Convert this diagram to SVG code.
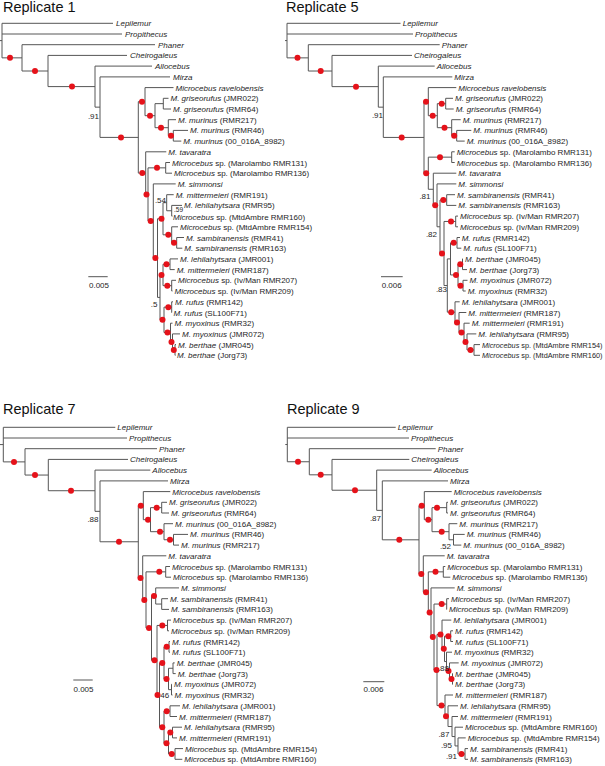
<svg xmlns="http://www.w3.org/2000/svg" width="605" height="766" viewBox="0 0 605 766">
<style>
.b{fill:none;stroke:#565656;stroke-width:1}
.d{fill:#e5121a}
.t{font-family:"Liberation Sans",Arial,sans-serif;font-size:8px;fill:#1e1e1e}
.i{font-style:italic}
.h{font-family:"Liberation Sans",Arial,sans-serif;font-size:14.5px;fill:#111}
.s{font-family:"Liberation Sans",Arial,sans-serif;font-size:8px;fill:#1e1e1e}
.e{text-anchor:end}
.n{font-size:7.3px}
</style>
<rect width="605" height="766" fill="#fff"/>

<!-- ================= REPLICATE 1 ================= -->
<g id="replicate1">
<text class="h" x="3" y="11.5">Replicate 1</text>
<g id="r1-connectors">
<path class="b" d="M2 23.3V57.85M22 44.7V71M48 55.4V86.6M95 66.1V107.15M100 76.9V137.4M138.3 101.65V173.1M145 87.6V115.7M155 103.65V127.7M163.3 98.3V109M168.3 119.7V135.75M173.3 130.4V141.1M145.7 151.8V194.4M148 167.85V221M165.7 162.5V173.2M153.3 183.9V258.1M157.5 218.75V297.4M163 202.7V234.8M166.7 194.7V210.75M171.7 205.4V216.1M171.7 226.8V242.85M176.7 237.5V248.2M160 274.95V319.85M163 264.25V285.65M170 258.9V269.6M171.7 280.3V291M164 307.15V332.55M171.7 301.8V312.5M170.5 323.2V341.9M172.5 333.9V349.95M175 344.6V355.3
M0 40.6H2M2 23.3H113M2 34H122M2 57.85H22M22 44.7H155M22 71H48M48 55.4H127M48 86.6H95M95 66.1H152M95 107.15H100M100 76.9H170M100 137.4H138.3M138.3 101.65H145M145 87.6H173.5M145 115.7H155M155 103.65H163.3M163.3 98.3H168.5M163.3 109H171M155 127.7H168.3M168.3 119.7H176M168.3 135.75H173.3M173.3 130.4H188M173.3 141.1H181.3M138.3 173.1H145.7M145.7 151.8H166.3M145.7 194.4H148M148 167.85H165.7M165.7 162.5H170M165.7 173.2H172M148 221H153.3M153.3 183.9H175.7M153.3 258.1H157.5M157.5 218.75H163M163 202.7H166.7M166.7 194.7H173.7M166.7 210.75H171.7M171.7 205.4H182M171.7 216.1H172.5M163 234.8H171.7M171.7 226.8H178M171.7 242.85H176.7M176.7 237.5H184M176.7 248.2H182.3M157.5 297.4H160M160 274.95H163M163 264.25H170M170 258.9H178M170 269.6H174.7M163 285.65H171.7M171.7 280.3H176M171.7 291H172.5M160 319.85H164M164 307.15H171.7M171.7 301.8H173M171.7 312.5H172M164 332.55H170.5M170.5 323.2H172.5M170.5 341.9H172.5M172.5 333.9H180M172.5 349.95H175M175 344.6H176M175 355.3H175.5"/>
<path class="b" d="M88.3 276.7H107.7"/>
</g>
<g id="r1-support">
<circle class="d" r="3" cx="10" cy="57.85"/><circle class="d" r="3" cx="35" cy="71"/><circle class="d" r="3" cx="72" cy="86.6"/><circle class="d" r="3" cx="121" cy="137.4"/><circle class="d" r="3" cx="142" cy="101.65"/><circle class="d" r="3" cx="150" cy="115.7"/><circle class="d" r="3" cx="161" cy="127.7"/><circle class="d" r="3" cx="171" cy="135.75"/><circle class="d" r="3" cx="142.3" cy="173.1"/><circle class="d" r="3" cx="157" cy="167.85"/><circle class="d" r="3" cx="146.5" cy="194.4"/><circle class="d" r="3" cx="150.7" cy="221"/><circle class="d" r="3" cx="155.4" cy="258.1"/><circle class="d" r="3" cx="161.5" cy="218.75"/><circle class="d" r="3" cx="168.3" cy="234.8"/><circle class="d" r="3" cx="174" cy="242.85"/><circle class="d" r="3" cx="166.5" cy="264.25"/><circle class="d" r="3" cx="161.5" cy="274.95"/><circle class="d" r="3" cx="167.3" cy="285.65"/><circle class="d" r="3" cx="168.3" cy="307.15"/><circle class="d" r="3" cx="162.5" cy="319.85"/><circle class="d" r="3" cx="167.5" cy="332.55"/><circle class="d" r="3" cx="171.5" cy="341.9"/><circle class="d" r="3" cx="173.8" cy="349.95"/>
<text class="s e" x="99" y="118.5">.91</text><text class="s e" x="166" y="202.5">.54</text><text class="s" x="174" y="212.3" style="font-size:6.5px">.59</text><text class="s e" x="157.5" y="306.5">.5</text>
<text class="s" x="89" y="288">0.005</text>
</g>
<g id="r1-n01"><text class="t i" x="116" y="26.3">Lepilemur</text></g>
<g id="r1-n02"><text class="t i" x="125" y="37">Propithecus</text></g>
<g id="r1-n03"><text class="t i" x="158" y="47.7">Phaner</text></g>
<g id="r1-n04"><text class="t i" x="130" y="58.4">Cheirogaleus</text></g>
<g id="r1-n05"><text class="t i" x="155" y="69.1">Allocebus</text></g>
<g id="r1-n06"><text class="t i" x="173" y="79.9">Mirza</text></g>
<g id="r1-n07"><text class="t i" x="175.5" y="90.6">Microcebus ravelobensis</text></g>
<g id="r1-n08"><text class="t" x="170.5" y="101.3"><tspan class="i">M. griseorufus</tspan> (JMR022)</text></g>
<g id="r1-n09"><text class="t" x="173" y="112"><tspan class="i">M. griseorufus</tspan> (RMR64)</text></g>
<g id="r1-n10"><text class="t" x="178" y="122.7"><tspan class="i">M. murinus</tspan> (RMR217)</text></g>
<g id="r1-n11"><text class="t" x="190" y="133.4"><tspan class="i">M. murinus</tspan> (RMR46)</text></g>
<g id="r1-n12"><text class="t" x="183.3" y="144.1"><tspan class="i">M. murinus</tspan> (00_016A_8982)</text></g>
<g id="r1-n13"><text class="t i" x="168.3" y="154.8">M. tavaratra</text></g>
<g id="r1-n14"><text class="t" x="172" y="165.5"><tspan class="i">Microcebus</tspan> sp. (Marolambo RMR131)</text></g>
<g id="r1-n15"><text class="t" x="174" y="176.2"><tspan class="i">Microcebus</tspan> sp. (Marolambo RMR136)</text></g>
<g id="r1-n16"><text class="t i" x="177.7" y="186.9">M. simmonsi</text></g>
<g id="r1-n17"><text class="t" x="175.7" y="197.7"><tspan class="i">M. mittermeieri</tspan> (RMR191)</text></g>
<g id="r1-n18"><text class="t" x="184" y="208.4"><tspan class="i">M. lehilahytsara</tspan> (RMR95)</text></g>
<g id="r1-n19"><text class="t" x="173" y="220"><tspan class="i">Microcebus</tspan> sp. (MtdAmbre RMR160)</text></g>
<g id="r1-n20"><text class="t" x="180" y="229.8"><tspan class="i">Microcebus</tspan> sp. (MtdAmbre RMR154)</text></g>
<g id="r1-n21"><text class="t" x="186" y="240.5"><tspan class="i">M. sambiranensis</tspan> (RMR41)</text></g>
<g id="r1-n22"><text class="t" x="184.3" y="251.2"><tspan class="i">M. sambiranensis</tspan> (RMR163)</text></g>
<g id="r1-n23"><text class="t" x="180" y="261.9"><tspan class="i">M. lehilahytsara</tspan> (JMR001)</text></g>
<g id="r1-n24"><text class="t" x="176.7" y="272.6"><tspan class="i">M. mittermeieri</tspan> (RMR187)</text></g>
<g id="r1-n25"><text class="t" x="178" y="283.3"><tspan class="i">Microcebus</tspan> sp. (Iv/Man RMR207)</text></g>
<g id="r1-n26"><text class="t" x="174.5" y="294"><tspan class="i">Microcebus</tspan> sp. (Iv/Man RMR209)</text></g>
<g id="r1-n27"><text class="t" x="175" y="304.8"><tspan class="i">M. rufus</tspan> (RMR142)</text></g>
<g id="r1-n28"><text class="t" x="173.5" y="315.5"><tspan class="i">M. rufus</tspan> (SL100F71)</text></g>
<g id="r1-n29"><text class="t" x="174.5" y="326.2"><tspan class="i">M. myoxinus</tspan> (RMR32)</text></g>
<g id="r1-n30"><text class="t" x="182" y="336.9"><tspan class="i">M. myoxinus</tspan> (JMR072)</text></g>
<g id="r1-n31"><text class="t" x="178" y="347.6"><tspan class="i">M. berthae</tspan> (JMR045)</text></g>
<g id="r1-n32"><text class="t" x="177" y="358.3"><tspan class="i">M. berthae</tspan> (Jorg73)</text></g>
</g>

<!-- ================= REPLICATE 5 ================= -->
<g id="replicate5">
<text class="h" x="286" y="11.5">Replicate 5</text>
<g id="r5-connectors">
<path class="b" d="M287 23.3V57.86M308.3 44.7V71.02M332 55.4V86.63M378.3 66.1V107.17M383.3 76.9V137.43M424 101.65V173.21M428.3 87.6V115.7M437.3 103.65V127.7M445.7 98.3V109M451.7 119.7V135.75M456.7 130.4V141.1M428.3 157.15V189.27M451.7 151.8V162.5M433.3 173.2V205.34M437 183.9V226.78M440 200.05V253.5M446.7 194.7V205.4M444 221.45V285.54M455.7 216.1V226.8M447.3 258.9V312.17M450.5 242.85V274.95M457 237.5V248.2M458 264.25V285.65M462.5 258.9V269.6M463 280.3V291M455 301.8V322.53M459 312.5V332.56M464 323.2V341.93M467 333.9V349.95M474 344.6V355.3
M285 40.58H287M287 23.3H400.5M287 34H413M287 57.86H308.3M308.3 44.7H439.7M308.3 71.02H332M332 55.4H412M332 86.63H378.3M378.3 66.1H434.7M378.3 107.17H383.3M383.3 76.9H452.3M383.3 137.43H424M424 101.65H428.3M428.3 87.6H456.3M428.3 115.7H437.3M437.3 103.65H445.7M445.7 98.3H453M445.7 109H453.7M437.3 127.7H451.7M451.7 119.7H460.7M451.7 135.75H456.7M456.7 130.4H471.3M456.7 141.1H464.7M424 173.21H428.3M428.3 157.15H451.7M451.7 151.8H454.7M451.7 162.5H454.7M428.3 189.27H433.3M433.3 173.2H456.3M433.3 205.34H437M437 183.9H456.3M437 226.78H440M440 200.05H446.7M446.7 194.7H455M446.7 205.4H456.3M440 253.5H444M444 221.45H455.7M455.7 216.1H458M455.7 226.8H458M444 285.54H447.3M447.3 258.9H450.5M450.5 242.85H457M457 237.5H460M457 248.2H461.3M450.5 274.95H458M458 264.25H462.5M462.5 258.9H463M462.5 269.6H467M458 285.65H463M463 280.3H467.5M463 291H465.7M447.3 312.17H455M455 301.8H459.7M455 322.53H459M459 312.5H466.3M459 332.56H464M464 323.2H469.7M464 341.93H467M467 333.9H476.3M467 349.95H474M474 344.6H480M474 355.3H480"/>
<path class="b" d="M381 276.7H402.7"/>
</g>
<g id="r5-support">
<circle class="d" r="3" cx="297.5" cy="57.86"/><circle class="d" r="3" cx="320.7" cy="71.02"/><circle class="d" r="3" cx="356" cy="86.63"/><circle class="d" r="3" cx="401.7" cy="137.43"/><circle class="d" r="3" cx="426" cy="101.65"/><circle class="d" r="3" cx="432.7" cy="115.7"/><circle class="d" r="3" cx="441.7" cy="103.65"/><circle class="d" r="3" cx="444.5" cy="127.7"/><circle class="d" r="3" cx="454.2" cy="135.75"/><circle class="d" r="3" cx="426.2" cy="173.21"/><circle class="d" r="3" cx="440" cy="157.15"/><circle class="d" r="3" cx="435.2" cy="205.34"/><circle class="d" r="3" cx="443.3" cy="200.05"/><circle class="d" r="3" cx="442" cy="253.5"/><circle class="d" r="3" cx="451" cy="221.45"/><circle class="d" r="3" cx="453.7" cy="242.85"/><circle class="d" r="3" cx="456" cy="274.95"/><circle class="d" r="3" cx="460.3" cy="264.25"/><circle class="d" r="3" cx="460.5" cy="285.65"/><circle class="d" r="3" cx="451.2" cy="312.17"/><circle class="d" r="3" cx="457" cy="322.53"/><circle class="d" r="3" cx="461.5" cy="332.56"/><circle class="d" r="3" cx="465.5" cy="341.93"/><circle class="d" r="3" cx="470.5" cy="349.95"/>
<text class="s e" x="383" y="118">.91</text><text class="s e" x="430.5" y="199">.81</text><text class="s e" x="437" y="236.5">.82</text><text class="s e" x="447" y="291.5">.83</text>
<text class="s" x="381.7" y="288">0.006</text>
</g>
<g id="r5-n01"><text class="t i" x="402.7" y="26.3">Lepilemur</text></g>
<g id="r5-n02"><text class="t i" x="415" y="37">Propithecus</text></g>
<g id="r5-n03"><text class="t i" x="441.7" y="47.7">Phaner</text></g>
<g id="r5-n04"><text class="t i" x="414" y="58.4">Cheirogaleus</text></g>
<g id="r5-n05"><text class="t i" x="436.7" y="69.1">Allocebus</text></g>
<g id="r5-n06"><text class="t i" x="454.3" y="79.9">Mirza</text></g>
<g id="r5-n07"><text class="t i" x="458.3" y="90.6">Microcebus ravelobensis</text></g>
<g id="r5-n08"><text class="t" x="455" y="101.3"><tspan class="i">M. griseorufus</tspan> (JMR022)</text></g>
<g id="r5-n09"><text class="t" x="455.7" y="112"><tspan class="i">M. griseorufus</tspan> (RMR64)</text></g>
<g id="r5-n10"><text class="t" x="462.7" y="122.7"><tspan class="i">M. murinus</tspan> (RMR217)</text></g>
<g id="r5-n11"><text class="t" x="473.3" y="133.4"><tspan class="i">M. murinus</tspan> (RMR46)</text></g>
<g id="r5-n12"><text class="t" x="466.7" y="144.1"><tspan class="i">M. murinus</tspan> (00_016A_8982)</text></g>
<g id="r5-n13"><text class="t" x="456.7" y="154.8"><tspan class="i">Microcebus</tspan> sp. (Marolambo RMR131)</text></g>
<g id="r5-n14"><text class="t" x="456.7" y="165.5"><tspan class="i">Microcebus</tspan> sp. (Marolambo RMR136)</text></g>
<g id="r5-n15"><text class="t i" x="458.3" y="176.2">M. tavaratra</text></g>
<g id="r5-n16"><text class="t i" x="458.3" y="186.9">M. simmonsi</text></g>
<g id="r5-n17"><text class="t" x="457" y="197.7"><tspan class="i">M. sambiranensis</tspan> (RMR41)</text></g>
<g id="r5-n18"><text class="t" x="458.3" y="208.4"><tspan class="i">M. sambiranensis</tspan> (RMR163)</text></g>
<g id="r5-n19"><text class="t" x="460" y="219.1"><tspan class="i">Microcebus</tspan> sp. (Iv/Man RMR207)</text></g>
<g id="r5-n20"><text class="t" x="460" y="229.8"><tspan class="i">Microcebus</tspan> sp. (Iv/Man RMR209)</text></g>
<g id="r5-n21"><text class="t" x="461.7" y="240.5"><tspan class="i">M. rufus</tspan> (RMR142)</text></g>
<g id="r5-n22"><text class="t" x="463.3" y="251.2"><tspan class="i">M. rufus</tspan> (SL100F71)</text></g>
<g id="r5-n23"><text class="t" x="465" y="261.9"><tspan class="i">M. berthae</tspan> (JMR045)</text></g>
<g id="r5-n24"><text class="t" x="469" y="272.6"><tspan class="i">M. berthae</tspan> (Jorg73)</text></g>
<g id="r5-n25"><text class="t" x="469.5" y="283.3"><tspan class="i">M. myoxinus</tspan> (JMR072)</text></g>
<g id="r5-n26"><text class="t" x="467.7" y="294"><tspan class="i">M. myoxinus</tspan> (RMR32)</text></g>
<g id="r5-n27"><text class="t" x="461.7" y="304.8"><tspan class="i">M. lehilahytsara</tspan> (JMR001)</text></g>
<g id="r5-n28"><text class="t" x="468.3" y="315.5"><tspan class="i">M. mittermeieri</tspan> (RMR187)</text></g>
<g id="r5-n29"><text class="t" x="471.7" y="326.2"><tspan class="i">M. mittermeieri</tspan> (RMR191)</text></g>
<g id="r5-n30"><text class="t" x="478.3" y="336.9"><tspan class="i">M. lehilahytsara</tspan> (RMR95)</text></g>
<g id="r5-n31"><text class="t n" x="482" y="347.6"><tspan class="i">Microcebus</tspan> sp. (MtdAmbre RMR154)</text></g>
<g id="r5-n32"><text class="t n" x="482" y="358.3"><tspan class="i">Microcebus</tspan> sp. (MtdAmbre RMR160)</text></g>
</g>

<!-- ================= REPLICATE 7 ================= -->
<g id="replicate7" transform="translate(0,404)">
<text class="h" x="3" y="10">Replicate 7</text>
<g id="r7-connectors">
<path class="b" d="M3.3 23.3V57.88M25 44.7V71.06M48.3 55.4V86.72M95 66.1V107.33M100 76.9V137.77M138.3 101.65V173.89M143.3 87.6V115.7M150.5 103.65V127.7M161.7 98.3V109M164 119.7V135.75M173.5 130.4V141.1M142.7 151.8V195.98M146 167.85V224.1M165.7 162.5V173.2M151.5 191.98V256.25M155.7 183.9V200.05M161.7 194.7V205.4M157 221.45V291.05M167.5 216.1V226.8M159.5 258.9V323.2M164 242.85V274.95M169 237.5V248.2M168.5 264.25V285.65M173 258.9V269.6M171.5 280.3V291M164 307.15V339.25M170 301.8V312.5M168.5 328.55V349.95M172.5 323.2V333.9M175 344.6V355.3
M0 40.59H3.3M3.3 23.3H115.3M3.3 34H127M3.3 57.88H25M25 44.7H157M25 71.06H48.3M48.3 55.4H128M48.3 86.72H95M95 66.1H150.3M95 107.33H100M100 76.9H168M100 137.77H138.3M138.3 101.65H143.3M143.3 87.6H170.3M143.3 115.7H150.5M150.5 103.65H161.7M161.7 98.3H167M161.7 109H169M150.5 127.7H164M164 119.7H173M164 135.75H173.5M173.5 130.4H188M173.5 141.1H179M138.3 173.89H142.7M142.7 151.8H166.3M142.7 195.98H146M146 167.85H165.7M165.7 162.5H170M165.7 173.2H171M146 224.1H151.5M151.5 191.98H155.7M155.7 183.9H179M155.7 200.05H161.7M161.7 194.7H168M161.7 205.4H169M151.5 256.25H157M157 221.45H167.5M167.5 216.1H171M167.5 226.8H169M157 291.05H159.5M159.5 258.9H164M164 242.85H169M169 237.5H170M169 248.2H170M164 274.95H168.5M168.5 264.25H173M173 258.9H174.7M173 269.6H175.7M168.5 285.65H171.5M171.5 280.3H172M171.5 291H172.5M159.5 323.2H164M164 307.15H170M170 301.8H180M170 312.5H177M164 339.25H168.5M168.5 328.55H172.5M172.5 323.2H182M172.5 333.9H177M168.5 349.95H175M175 344.6H183M175 355.3H182.3"/>
<path class="b" d="M73.3 276H92.7"/>
</g>
<g id="r7-support">
<circle class="d" r="3" cx="14" cy="57.88"/><circle class="d" r="3" cx="35" cy="71.06"/><circle class="d" r="3" cx="71" cy="86.72"/><circle class="d" r="3" cx="119" cy="137.77"/><circle class="d" r="3" cx="140.8" cy="101.65"/><circle class="d" r="3" cx="148" cy="115.7"/><circle class="d" r="3" cx="156.7" cy="103.65"/><circle class="d" r="3" cx="160" cy="127.7"/><circle class="d" r="3" cx="170" cy="135.75"/><circle class="d" r="3" cx="140.5" cy="173.89"/><circle class="d" r="3" cx="144.3" cy="195.98"/><circle class="d" r="3" cx="159.3" cy="167.85"/><circle class="d" r="3" cx="149" cy="224.1"/><circle class="d" r="3" cx="154" cy="191.98"/><circle class="d" r="3" cx="154.5" cy="256.25"/><circle class="d" r="3" cx="162.3" cy="221.45"/><circle class="d" r="3" cx="162.3" cy="258.9"/><circle class="d" r="3" cx="166.7" cy="242.85"/><circle class="d" r="3" cx="166.5" cy="274.95"/><circle class="d" r="3" cx="162.3" cy="323.2"/><circle class="d" r="3" cx="166.7" cy="307.15"/><circle class="d" r="3" cx="166.5" cy="339.25"/><circle class="d" r="3" cx="170.3" cy="328.55"/><circle class="d" r="3" cx="171.7" cy="349.95"/>
<text class="s e" x="98.5" y="117.5">.88</text>
<text class="s" x="158" y="294">.46</text>
<circle class="d" r="3" cx="157.5" cy="291.05"/>
<text class="s" x="73.5" y="287.5">0.005</text>
</g>
<g id="r7-n01"><text class="t i" x="117.3" y="26.3">Lepilemur</text></g>
<g id="r7-n02"><text class="t i" x="129" y="37">Propithecus</text></g>
<g id="r7-n03"><text class="t i" x="159" y="47.7">Phaner</text></g>
<g id="r7-n04"><text class="t i" x="130" y="58.4">Cheirogaleus</text></g>
<g id="r7-n05"><text class="t i" x="152.3" y="69.1">Allocebus</text></g>
<g id="r7-n06"><text class="t i" x="170" y="79.9">Mirza</text></g>
<g id="r7-n07"><text class="t i" x="172.3" y="90.6">Microcebus ravelobensis</text></g>
<g id="r7-n08"><text class="t" x="169" y="101.3"><tspan class="i">M. griseorufus</tspan> (JMR022)</text></g>
<g id="r7-n09"><text class="t" x="171" y="112"><tspan class="i">M. griseorufus</tspan> (RMR64)</text></g>
<g id="r7-n10"><text class="t" x="175" y="122.7"><tspan class="i">M. murinus</tspan> (00_016A_8982)</text></g>
<g id="r7-n11"><text class="t" x="190" y="133.4"><tspan class="i">M. murinus</tspan> (RMR46)</text></g>
<g id="r7-n12"><text class="t" x="181" y="144.1"><tspan class="i">M. murinus</tspan> (RMR217)</text></g>
<g id="r7-n13"><text class="t i" x="168.3" y="154.8">M. tavaratra</text></g>
<g id="r7-n14"><text class="t" x="172" y="165.5"><tspan class="i">Microcebus</tspan> sp. (Marolambo RMR131)</text></g>
<g id="r7-n15"><text class="t" x="173" y="176.2"><tspan class="i">Microcebus</tspan> sp. (Marolambo RMR136)</text></g>
<g id="r7-n16"><text class="t i" x="181" y="186.9">M. simmonsi</text></g>
<g id="r7-n17"><text class="t" x="170" y="197.7"><tspan class="i">M. sambiranensis</tspan> (RMR41)</text></g>
<g id="r7-n18"><text class="t" x="171" y="208.4"><tspan class="i">M. sambiranensis</tspan> (RMR163)</text></g>
<g id="r7-n19"><text class="t" x="173" y="219.1"><tspan class="i">Microcebus</tspan> sp. (Iv/Man RMR207)</text></g>
<g id="r7-n20"><text class="t" x="171" y="229.8"><tspan class="i">Microcebus</tspan> sp. (Iv/Man RMR209)</text></g>
<g id="r7-n21"><text class="t" x="172" y="240.5"><tspan class="i">M. rufus</tspan> (RMR142)</text></g>
<g id="r7-n22"><text class="t" x="172" y="251.2"><tspan class="i">M. rufus</tspan> (SL100F71)</text></g>
<g id="r7-n23"><text class="t" x="176.7" y="261.9"><tspan class="i">M. berthae</tspan> (JMR045)</text></g>
<g id="r7-n24"><text class="t" x="177.7" y="272.6"><tspan class="i">M. berthae</tspan> (Jorg73)</text></g>
<g id="r7-n25"><text class="t" x="174" y="283.3"><tspan class="i">M. myoxinus</tspan> (JMR072)</text></g>
<g id="r7-n26"><text class="t" x="174.5" y="294"><tspan class="i">M. myoxinus</tspan> (RMR32)</text></g>
<g id="r7-n27"><text class="t" x="182" y="304.8"><tspan class="i">M. lehilahytsara</tspan> (JMR001)</text></g>
<g id="r7-n28"><text class="t" x="179" y="315.5"><tspan class="i">M. mittermeieri</tspan> (RMR187)</text></g>
<g id="r7-n29"><text class="t" x="184" y="326.2"><tspan class="i">M. lehilahytsara</tspan> (RMR95)</text></g>
<g id="r7-n30"><text class="t" x="179" y="336.9"><tspan class="i">M. mittermeieri</tspan> (RMR191)</text></g>
<g id="r7-n31"><text class="t" x="185" y="347.6"><tspan class="i">Microcebus</tspan> sp. (MtdAmbre RMR154)</text></g>
<g id="r7-n32"><text class="t" x="184.3" y="358.3"><tspan class="i">Microcebus</tspan> sp. (MtdAmbre RMR160)</text></g>
</g>

<!-- ================= REPLICATE 9 ================= -->
<g id="replicate9" transform="translate(0,404)">
<text class="h" x="287" y="10">Replicate 9</text>
<g id="r9-connectors">
<path class="b" d="M287.3 23.3V57.76M309.3 44.7V70.82M332 55.4V86.23M376.7 66.1V106.36M382.3 76.9V135.82M419 101.65V169.98M424.3 87.6V115.7M432 103.65V127.7M446.7 98.3V109M449 119.7V135.75M453.5 130.4V141.1M423.3 151.8V188.16M428.3 167.85V208.47M443.3 162.5V173.2M431 183.9V233.04M434 200.05V266.03M446.7 194.7V205.4M437 230.48V301.58M442 216.1V244.86M444.5 232.15V257.56M450.7 226.8V237.5M446.5 248.2V266.93M449.5 258.9V274.95M452.5 269.6V280.3M445 291V312.17M448 301.8V322.53M452 312.5V332.56M455 323.2V341.93M458 333.9V349.95M465 344.6V355.3
M285.3 40.53H287.3M287.3 23.3H395.7M287.3 34H409M287.3 57.76H309.3M309.3 44.7H435.7M309.3 70.82H332M332 55.4H409.3M332 86.23H376.7M376.7 66.1H431.7M376.7 106.36H382.3M382.3 76.9H448M382.3 135.82H419M419 101.65H424.3M424.3 87.6H451.7M424.3 115.7H432M432 103.65H446.7M446.7 98.3H448M446.7 109H448M432 127.7H449M449 119.7H457.3M449 135.75H453.5M453.5 130.4H464.7M453.5 141.1H461.3M419 169.98H423.3M423.3 151.8H444.7M423.3 188.16H428.3M428.3 167.85H443.3M443.3 162.5H445.3M443.3 173.2H450.3M428.3 208.47H431M431 183.9H454.7M431 233.04H434M434 200.05H446.7M446.7 194.7H449M446.7 205.4H447M434 266.03H437M437 230.48H442M442 216.1H451.3M442 244.86H444.5M444.5 232.15H450.7M450.7 226.8H453M450.7 237.5H453M444.5 257.56H446.5M446.5 248.2H452M446.5 266.93H449.5M449.5 258.9H458.7M449.5 274.95H452.5M452.5 269.6H453M452.5 280.3H453M437 301.58H445M445 291H453M445 312.17H448M448 301.8H458M448 322.53H452M452 312.5H458M452 332.56H455M455 323.2H463M455 341.93H458M458 333.9H465.7M458 349.95H465M465 344.6H468M465 355.3H468"/>
<path class="b" d="M363.3 277.7H384.3"/>
</g>
<g id="r9-support">
<circle class="d" r="3" cx="298" cy="57.76"/><circle class="d" r="3" cx="320.7" cy="70.82"/><circle class="d" r="3" cx="355" cy="86.23"/><circle class="d" r="3" cx="399.3" cy="135.82"/><circle class="d" r="3" cx="421.7" cy="101.65"/><circle class="d" r="3" cx="428.3" cy="115.7"/><circle class="d" r="3" cx="437" cy="103.65"/><circle class="d" r="3" cx="441.7" cy="127.7"/><circle class="d" r="3" cx="421.3" cy="169.98"/><circle class="d" r="3" cx="435.5" cy="167.85"/><circle class="d" r="3" cx="426" cy="188.16"/><circle class="d" r="3" cx="429.6" cy="208.47"/><circle class="d" r="3" cx="432.8" cy="233.04"/><circle class="d" r="3" cx="441.7" cy="200.05"/><circle class="d" r="3" cx="436.5" cy="266.03"/><circle class="d" r="3" cx="440.5" cy="230.48"/><circle class="d" r="3" cx="443.8" cy="244.86"/><circle class="d" r="3" cx="448.3" cy="232.15"/><circle class="d" r="3" cx="448.5" cy="266.93"/><circle class="d" r="3" cx="451.5" cy="274.95"/><circle class="d" r="3" cx="441.5" cy="301.58"/><circle class="d" r="3" cx="446" cy="312.17"/><circle class="d" r="3" cx="461.5" cy="349.95"/>
<text class="s e" x="381" y="117">.87</text><text class="s e" x="451" y="145">.52</text><text class="s e" x="449" y="267">.88</text><text class="s e" x="449.5" y="333">.87</text><text class="s e" x="452" y="344">.95</text><text class="s e" x="457" y="354.5">.91</text>
<text class="s" x="363.5" y="288">0.006</text>
</g>
<g id="r9-n01"><text class="t i" x="397.7" y="26.3">Lepilemur</text></g>
<g id="r9-n02"><text class="t i" x="411" y="37">Propithecus</text></g>
<g id="r9-n03"><text class="t i" x="437.7" y="47.7">Phaner</text></g>
<g id="r9-n04"><text class="t i" x="411.3" y="58.4">Cheirogaleus</text></g>
<g id="r9-n05"><text class="t i" x="433.7" y="69.1">Allocebus</text></g>
<g id="r9-n06"><text class="t i" x="450" y="79.9">Mirza</text></g>
<g id="r9-n07"><text class="t i" x="453.7" y="90.6">Microcebus ravelobensis</text></g>
<g id="r9-n08"><text class="t" x="450" y="101.3"><tspan class="i">M. griseorufus</tspan> (JMR022)</text></g>
<g id="r9-n09"><text class="t" x="450" y="112"><tspan class="i">M. griseorufus</tspan> (RMR64)</text></g>
<g id="r9-n10"><text class="t" x="459.3" y="122.7"><tspan class="i">M. murinus</tspan> (RMR217)</text></g>
<g id="r9-n11"><text class="t" x="466.7" y="133.4"><tspan class="i">M. murinus</tspan> (RMR46)</text></g>
<g id="r9-n12"><text class="t" x="463.3" y="144.1"><tspan class="i">M. murinus</tspan> (00_016A_8982)</text></g>
<g id="r9-n13"><text class="t i" x="446.7" y="154.8">M. tavaratra</text></g>
<g id="r9-n14"><text class="t" x="447.3" y="165.5"><tspan class="i">Microcebus</tspan> sp. (Marolambo RMR131)</text></g>
<g id="r9-n15"><text class="t" x="452.3" y="176.2"><tspan class="i">Microcebus</tspan> sp. (Marolambo RMR136)</text></g>
<g id="r9-n16"><text class="t i" x="456.7" y="186.9">M. simmonsi</text></g>
<g id="r9-n17"><text class="t" x="451" y="197.7"><tspan class="i">Microcebus</tspan> sp. (Iv/Man RMR207)</text></g>
<g id="r9-n18"><text class="t" x="449" y="208.4"><tspan class="i">Microcebus</tspan> sp. (Iv/Man RMR209)</text></g>
<g id="r9-n19"><text class="t" x="453.3" y="219.1"><tspan class="i">M. lehilahytsara</tspan> (JMR001)</text></g>
<g id="r9-n20"><text class="t" x="455" y="229.8"><tspan class="i">M. rufus</tspan> (RMR142)</text></g>
<g id="r9-n21"><text class="t" x="455" y="240.5"><tspan class="i">M. rufus</tspan> (SL100F71)</text></g>
<g id="r9-n22"><text class="t" x="454" y="251.2"><tspan class="i">M. myoxinus</tspan> (RMR32)</text></g>
<g id="r9-n23"><text class="t" x="460.7" y="261.9"><tspan class="i">M. myoxinus</tspan> (JMR072)</text></g>
<g id="r9-n24"><text class="t" x="455" y="272.6"><tspan class="i">M. berthae</tspan> (JMR045)</text></g>
<g id="r9-n25"><text class="t" x="455" y="283.3"><tspan class="i">M. berthae</tspan> (Jorg73)</text></g>
<g id="r9-n26"><text class="t" x="455" y="294"><tspan class="i">M. mittermeieri</tspan> (RMR187)</text></g>
<g id="r9-n27"><text class="t" x="460" y="304.8"><tspan class="i">M. lehilahytsara</tspan> (RMR95)</text></g>
<g id="r9-n28"><text class="t" x="460" y="315.5"><tspan class="i">M. mittermeieri</tspan> (RMR191)</text></g>
<g id="r9-n29"><text class="t" x="465" y="326.2"><tspan class="i">Microcebus</tspan> sp. (MtdAmbre RMR160)</text></g>
<g id="r9-n30"><text class="t" x="467.7" y="336.9"><tspan class="i">Microcebus</tspan> sp. (MtdAmbre RMR154)</text></g>
<g id="r9-n31"><text class="t" x="470" y="347.6"><tspan class="i">M. sambiranensis</tspan> (RMR41)</text></g>
<g id="r9-n32"><text class="t" x="470" y="358.3"><tspan class="i">M. sambiranensis</tspan> (RMR163)</text></g>
</g>
</svg>
